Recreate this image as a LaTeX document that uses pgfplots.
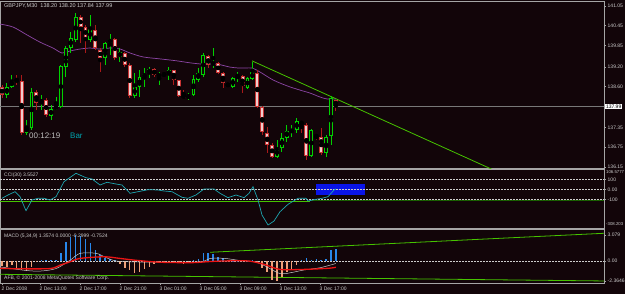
\documentclass[border=0pt]{standalone}
\usepackage{pgfplots}
\pgfplotsset{compat=1.18}
\usepackage{pgfplotstable}
\usepackage{fontspec}
\setmainfont{Liberation Sans}

\definecolor{bg}{RGB}{18,5,9}
\definecolor{frame}{RGB}{165,165,165}
\definecolor{txt}{RGB}{205,205,205}
\definecolor{bull}{RGB}{0,210,0}
\definecolor{bearline}{RGB}{200,50,50}
\definecolor{bearwick}{RGB}{170,25,25}
\definecolor{bearfill}{RGB}{240,205,205}
\definecolor{mapurple}{RGB}{140,70,165}
\definecolor{trend}{RGB}{70,195,0}
\definecolor{darktrend}{RGB}{25,95,0}
\definecolor{ccic}{RGB}{30,165,175}
\definecolor{cciblue}{RGB}{10,20,232}
\definecolor{histpos}{RGB}{40,135,235}
\definecolor{histneg}{RGB}{240,160,120}
\definecolor{sigred}{RGB}{235,20,20}
\definecolor{barteal}{RGB}{0,165,175}

\newcommand{\tf}{\fontsize{5}{6}\selectfont}

\pgfplotstableread{
i o h l c
1 138.34 138.71 138.25 138.59
2 138.59 138.95 138.55 138.77
5 137.19 137.58 137.12 137.37
6 137.34 138.55 137.28 138.43
8 138.10 138.34 137.89 138.19
10 137.70 138.04 137.58 137.92
11 137.95 138.28 137.89 137.98
12 137.98 139.25 137.95 139.22
13 139.19 139.83 138.89 139.77
14 139.77 140.26 139.62 140.08
15 140.02 140.84 139.95 140.72
18 140.02 140.78 139.95 140.35
21 139.47 139.95 139.25 139.92
22 139.92 140.20 139.56 140.05
24 139.50 139.77 139.35 139.65
27 138.31 139.01 138.25 138.59
28 138.59 139.10 138.28 138.89
29 138.89 139.16 138.59 138.98
30 139.01 139.19 138.86 139.13
32 138.92 139.04 138.65 138.95
34 138.95 139.19 138.80 139.10
38 138.25 138.40 138.19 138.34
39 138.34 138.95 138.31 138.83
40 138.80 139.16 138.74 139.01
41 138.95 139.62 138.89 139.56
43 139.25 139.77 139.16 139.35
47 138.59 138.89 138.55 138.86
48 138.89 139.04 138.74 138.95
50 138.55 138.89 138.52 138.86
51 138.83 139.35 138.80 139.04
56 136.45 136.97 136.42 136.73
57 136.73 137.19 136.61 137.03
58 137.03 137.43 136.91 137.25
59 137.22 137.43 137.06 137.28
60 137.28 137.64 137.19 137.55
63 136.49 137.31 136.45 137.28
66 136.58 137.12 136.45 137.06
67 137.09 138.31 136.82 138.25
}\bulltab

\pgfplotstableread{
i o h l c
0 138.59 138.65 138.25 138.34
3 138.80 138.95 138.65 138.77
4 138.77 138.95 137.12 137.19
7 138.43 138.49 137.89 138.10
9 138.19 138.25 137.67 137.73
16 140.72 140.78 139.92 140.41
17 140.41 140.47 139.62 140.08
19 140.32 140.47 139.71 139.77
20 139.71 139.77 139.04 139.47
23 140.05 140.08 139.41 139.47
25 139.62 139.65 139.19 139.25
26 139.25 139.32 138.25 138.31
31 139.13 139.16 138.89 138.95
33 138.98 139.01 138.92 138.95
35 139.10 139.10 138.65 138.80
36 138.80 138.80 138.28 138.31
37 138.31 138.49 138.25 138.28
42 139.53 139.56 139.16 139.25
44 139.32 139.35 138.98 139.01
45 139.01 139.04 138.55 138.71
46 138.68 138.71 138.59 138.62
49 138.92 138.95 138.40 138.62
52 139.01 139.10 137.95 137.98
53 137.98 138.01 137.12 137.22
54 137.19 137.37 136.58 136.82
55 136.82 136.88 136.42 136.45
61 137.52 137.55 137.19 137.46
62 137.43 137.49 136.36 136.49
64 137.12 137.15 136.97 137.06
65 137.06 137.34 136.52 136.58
68 138.20 138.20 137.84 137.99
}\beartab

\pgfplotsset{
  panel/.style={scale only axis, width=604pt, xmin=-0.407, xmax=122.6, anchor=south west,
    axis background/.style={fill=bg}, axis line style={draw=frame, line width=0.8pt},
    xtick=\empty, ytick pos=right, yticklabel pos=right, tick align=outside, major tick length=2pt,
    tick style={draw=frame, line width=0.5pt},
    yticklabel style={font=\tf, text=txt, inner sep=1.5pt},
    xticklabel style={font=\tf, text=txt},
    clip=true},
  wick/.style={only marks, mark=none, error bars/.cd, y dir=both, y explicit, error mark=none,
    error bar style={line width=0.9pt, draw=#1}},
  body/.style 2 args={only marks, mark=none, error bars/.cd, y dir=both, y explicit, error mark=none,
    error bar style={line width=#2, draw=#1}},
}

\begin{document}
\begin{tikzpicture}
\useasboundingbox (0,0) rectangle (625pt,294pt);
\fill[bg] (0,0) rectangle (625pt,294pt);

% ---------------- price panel ----------------
\begin{axis}[panel, at={(0pt,125.5pt)}, height=167pt, ymin=136.104, ymax=141.187,
  ytick={136.15,136.75,137.35,138.60,139.20,139.85,140.45,141.05},
  yticklabels={136.15,136.75,137.35,138.60,139.20,139.85,140.45,141.05}]
  \addplot[color={rgb,255:red,120;green,120;blue,120}, line width=0.6pt] coordinates {(-1,137.99) (130,137.99)};
  \addplot[mapurple, line width=0.7pt, smooth] coordinates {
    (-0.41,140.50) (2.24,140.41) (5.09,140.17) (7.74,139.95) (10.39,139.77) (12.22,139.62)
    (13.85,139.68) (15.89,139.74) (17.92,139.77) (19.96,139.74) (22.0,139.77) (24.03,139.74)
    (26.07,139.62) (28.72,139.50) (32.18,139.44) (35.64,139.38) (38.29,139.32) (40.94,139.28)
    (43.79,139.28) (46.44,139.19) (48.47,139.16) (50.92,139.16) (52.55,139.04) (55.19,138.80)
    (58.04,138.62) (60.69,138.49) (62.73,138.40) (64.76,138.28) (66.19,138.22) (68.0,138.22)};
  \addplot[trend, line width=0.8pt] coordinates {(50.92,139.38) (101.4,135.97)};
  % bull candles
  \addplot[wick=bull] table[x=i, y expr={(\thisrow{h}+\thisrow{l})/2}, y error expr={(\thisrow{h}-\thisrow{l})/2}] {\bulltab};
  \addplot[body={bull}{3.9pt}] table[x=i, y expr={(\thisrow{o}+\thisrow{c})/2}, y error expr={max(abs(\thisrow{c}-\thisrow{o})/2,0.02)}] {\bulltab};
  \addplot[body={bg}{1.9pt}] table[x=i, y expr={(\thisrow{o}+\thisrow{c})/2}, y error expr={max(abs(\thisrow{c}-\thisrow{o})/2-0.03,0)}] {\bulltab};
  % bear candles
  \addplot[wick=bearwick] table[x=i, y expr={(\thisrow{h}+\thisrow{l})/2}, y error expr={(\thisrow{h}-\thisrow{l})/2}] {\beartab};
  \addplot[body={bearline}{3.9pt}] table[x=i, y expr={(\thisrow{o}+\thisrow{c})/2}, y error expr={max(abs(\thisrow{c}-\thisrow{o})/2,0.02)}] {\beartab};
  \addplot[body={bearfill}{1.9pt}] table[x=i, y expr={(\thisrow{o}+\thisrow{c})/2}, y error expr={max(abs(\thisrow{c}-\thisrow{o})/2-0.03,0)}] {\beartab};
\end{axis}

% ---------------- CCI panel ----------------
\begin{axis}[panel, at={(0pt,65.5pt)}, height=59pt, ymin=-392, ymax=198,
  ytick={-100,0,100}, yticklabels={-100,0.00,100}]
  \addplot[cciblue, fill=cciblue, draw=none] coordinates {(63.95,53) (73.9,53) (73.9,-57) (63.95,-57)} -- cycle;
  \addplot[txt, dash pattern=on 1.5pt off 1.5pt, line width=0.5pt] coordinates {(-1,100) (125,100)};
  \addplot[txt, dash pattern=on 1.5pt off 1.5pt, line width=0.5pt] coordinates {(-1,0) (125,0)};
  \addplot[txt, dash pattern=on 1.5pt off 1.5pt, line width=0.5pt] coordinates {(-1,-100) (125,-100)};
  \addplot[trend, line width=0.8pt] coordinates {(-0.41,-117) (62.7,-117)};
  \addplot[darktrend, line width=1pt] coordinates {(62.7,-117) (122.6,-117)};
  \addplot[ccic, line width=0.7pt] coordinates {
    (0,-90) (1.22,-57) (2.65,-24) (3.67,-74) (4.89,-214) (6.11,-107) (7.33,-90) (8.55,-90)
    (9.78,-107) (11.0,-74) (12.63,76) (15.07,160) (17.11,116) (18.33,103) (19.96,43) (21.38,70)
    (23.22,53) (24.44,43) (26.07,-40) (27.70,-24) (29.74,-4) (31.77,-7) (32.99,-17) (34.62,-24)
    (36.66,-80) (37.88,-90) (39.51,-57) (41.14,3) (43.18,3) (44.4,-40) (46.03,-84) (47.66,-57)
    (49.29,-84) (50.31,-40) (51.12,26) (52.14,-107) (52.95,-257) (54.18,-357) (55.4,-317)
    (56.62,-224) (58.25,-150) (60.29,-90) (61.91,-90) (62.32,-117) (63.95,-100) (65.17,-90)
    (66.4,-74) (67.62,-7) (68.0,3.55)};
\end{axis}

% ---------------- MACD panel ----------------
\begin{axis}[panel, at={(0pt,10.5pt)}, height=54pt, ymin=-2.67, ymax=3.73,
  ytick={-2.3646,0,3.079}, yticklabels={-2.3646,0.00,3.079},
  xtick={0,7.74,15.89,24.03,32.18,40.33,48.47,56.62,64.76},
  xticklabels={2 Dec 2008,2 Dec 13:00,2 Dec 17:00,2 Dec 21:00,3 Dec 01:00,3 Dec 05:00,3 Dec 09:00,3 Dec 13:00,3 Dec 17:00},
  xtick pos=bottom, xticklabel style={anchor=north west, xshift=-1.5pt, inner sep=1pt}]
  \addplot[txt, dash pattern=on 1.5pt off 1.5pt, line width=0.5pt] coordinates {(-1,0) (125,0)};
  \addplot[trend, line width=0.8pt] coordinates {(42.4,1.03) (122.6,3.28)};
  \addplot[trend, line width=0.8pt] coordinates {(-0.41,-1.58) (122.6,-2.37)};
  \addplot[ycomb, histpos, line width=1.5pt, mark=none] coordinates {
    (8,0.1) (9,0.1) (10,0.1) (11,0.15) (12,0.9) (13,2.2) (14,2.8) (15,3.08) (16,3.0) (17,2.6)
    (18,2.1) (19,1.3) (20,0.7) (21,0.3) (22,0.2) (23,0.1) (39,0.1) (40,0.2) (41,0.9) (42,0.9)
    (43,0.8) (44,0.5) (45,0.3) (46,0.1) (47,0.05) (48,0.05) (49,0.1) (50,0.05) (51,0.1)
    (61,0.1) (62,0.3) (63,0.1) (64,0.2) (65,0.1) (66,0.2) (67,1.25) (68,1.36)};
  \addplot[ycomb, histneg, line width=1.5pt, mark=none] coordinates {
    (0,-0.6) (1,-0.7) (2,-0.5) (3,-0.9) (4,-1.1) (5,-1.2) (6,-0.7) (7,-0.1)
    (24,-0.4) (25,-0.8) (26,-1.1) (27,-1.4) (28,-1.3) (29,-1.0) (30,-0.7) (31,-0.4) (32,-0.2)
    (33,-0.1) (34,-0.1) (35,-0.2) (36,-0.3) (37,-0.4) (38,-0.2)
    (52,-0.3) (53,-0.8) (54,-1.3) (55,-2.2) (56,-2.36) (57,-1.9) (58,-1.3) (59,-0.9) (60,-0.5)};
  \addplot[color={rgb,255:red,200;green,200;blue,200}, line width=0.5pt, smooth] coordinates {
    (-0.41,-0.7) (4.5,-1.1) (7.7,-1.2) (11,-0.9) (13.9,0.1) (15.9,0.9) (19.2,0.9) (21.2,0.4)
    (23.2,0.0) (26.1,-0.1) (32.2,-0.15) (40.3,-0.1) (42.4,0.3) (45.4,0.3) (48.5,0.05) (51.5,-0.1)
    (53.6,-0.6) (56.6,-1.5) (58.7,-1.4) (61.5,-1.07) (64.8,-0.8) (68,-0.30)};
  \addplot[sigred, line width=1.3pt, smooth] coordinates {
    (-0.41,-0.87) (3.67,-0.93) (9.78,-0.9) (11.81,-0.5) (13.85,-0.1) (15.89,0.3) (20.77,0.5)
    (24.03,0.3) (27.29,0.08) (32.18,-0.15) (38.7,-0.2) (41.96,-0.08) (45.21,0) (50.1,0)
    (53.36,-0.4) (56.62,-1.0) (61.5,-1.0) (66.4,-0.87) (68,-0.75)};
\end{axis}

% ---------------- texts ----------------
\node[anchor=west, font=\fontsize{5.5}{6}\selectfont, text=txt, inner sep=0pt] at (4pt,288pt) {GBPJPY,M30\ \ 138.20 138.20 137.84 137.99};
\node[anchor=west, font=\fontsize{8}{9}\selectfont, text={rgb,255:red,190;green,190;blue,190}, inner sep=0pt] at (29pt,158pt) {00:12:19};
\node[anchor=west, font=\fontsize{8}{9}\selectfont, text=barteal, inner sep=0pt] at (70pt,158pt) {Bar};
\node[anchor=west, font=\tf, text=txt, inner sep=0pt] at (4pt,118.5pt) {CCI(30) 3.5527};
\node[anchor=west, font=\tf, text=txt, inner sep=0pt] at (4pt,57.5pt) {MACD (5,34,9) 1.3574 0.0000 -0.2999 -0.7524};
\node[anchor=west, font=\tf, text=txt, inner sep=0pt] at (4pt,16pt) {AFB, © 2001-2008 MetaQuotes Software Corp.};
\node[anchor=west, font=\fontsize{4.3}{5}\selectfont, text=txt, inner sep=0pt] at (606pt,121.5pt) {106.5777};
\node[anchor=west, font=\fontsize{4.3}{5}\selectfont, text=txt, inner sep=0pt] at (606pt,69.5pt) {-308.203};
\node[anchor=west, font=\tf, text=black, fill=white, inner sep=0.8pt] at (605pt,187.5pt) {137.99};
\end{tikzpicture}
\end{document}
